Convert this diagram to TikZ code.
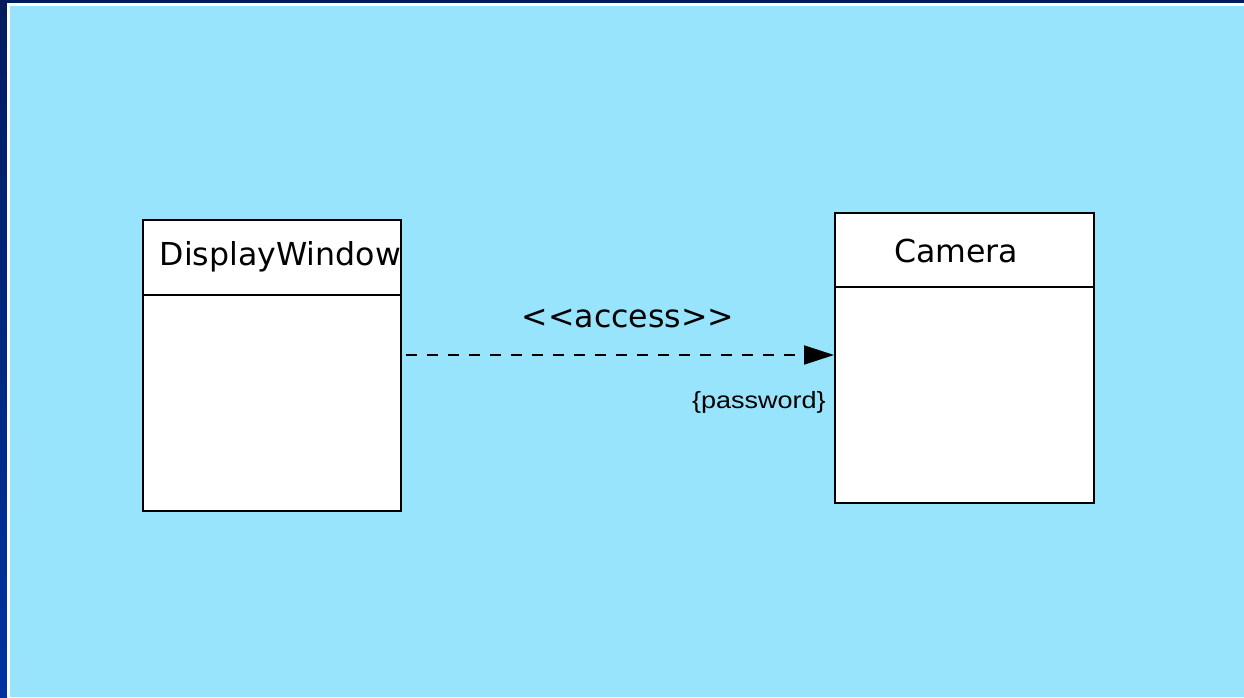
\documentclass[tikz,border=0pt]{standalone}
\usepackage{fontspec}
\usetikzlibrary{arrows.meta}
\newfontfamily\dvfont{DejaVu Sans}
\newfontfamily\libfont{Liberation Sans}
\definecolor{navytop}{HTML}{001C5E}
\definecolor{navybot}{HTML}{0033A0}
\definecolor{skyfill}{HTML}{98E4FC}
\tikzset{
  classbox/.style={draw=black, line width=2pt, fill=white, inner sep=0pt},
  bigtext/.style={font=\dvfont\fontsize{31.6}{38}\selectfont, inner sep=0pt},
  smalltext/.style={font=\libfont\fontsize{23.5}{28}\selectfont, inner sep=0pt},
  depline/.style={line width=2pt, dash pattern=on 11pt off 10pt, -{Triangle[length=30pt,width=19pt]}}
}
\begin{document}
\begin{tikzpicture}[x=1pt,y=-1pt]
\useasboundingbox (0,0) rectangle (1244,697);
% background frame
\fill[navytop] (0,0) rectangle (1244,697);
\shade[top color=navytop, bottom color=navybot] (0,0) rectangle (7,697);
\fill[white] (7,3) rectangle (1244,697);
\fill[skyfill] (10,6) rectangle (1244,697);
% classes
\node[classbox, minimum width=258pt, minimum height=291pt] (dw) at (272,365.5) {};
\draw[line width=2pt] (dw.west |- 0,295) -- (dw.east |- 0,295);
\node[bigtext, anchor=base west] (dwname) at (159.5,265) {DisplayWindow};
\node[classbox, minimum width=259pt, minimum height=290pt] (cam) at (964.5,358) {};
\draw[line width=2pt] (cam.west |- 0,287) -- (cam.east |- 0,287);
\node[bigtext, anchor=base] (camname) at (956,262) {Camera};
% dependency
\draw[depline, shorten <=4pt] (dw.east |- 0,355) -- (cam.west |- 0,355);
\node[bigtext, anchor=base] (acc) at (628,327) {<<access>>};
\node[smalltext, anchor=base east, xscale=1.15, transform shape] (pw) at (826,408) {\{password\}};
\end{tikzpicture}
\end{document}
